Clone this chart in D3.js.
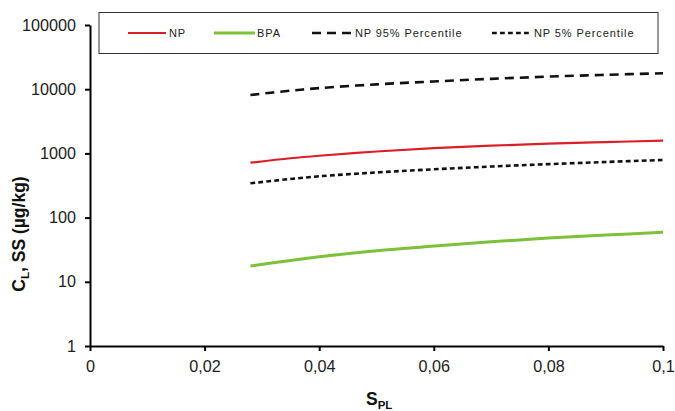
<!DOCTYPE html>
<html>
<head>
<meta charset="utf-8">
<script src="https://cdn.jsdelivr.net/npm/d3@7"></script>
<style>
  html, body { margin: 0; padding: 0; background: #fff; }
  svg { display: block; font-family: "Liberation Sans", Arial, sans-serif; }
</style>
</head>
<body>
<svg id="chart" width="675" height="411"></svg>
<script>
// ---- data ----
const sPL = [0.028, 0.035, 0.04, 0.05, 0.06, 0.07, 0.08, 0.09, 0.1];
const np = [716, 840, 920, 1070, 1210, 1320, 1420, 1500, 1580];
const bpa = [17.6, 21.5, 24.5, 30.5, 36, 42, 48, 53.5, 59];
const np95 = [8130, 9500, 10400, 11900, 13200, 14500, 15700, 16750, 17700];
const np5 = [342, 400, 440, 505, 565, 625, 680, 735, 790];
const xTicks = [0, 0.02, 0.04, 0.06, 0.08, 0.1];
const xTickLabels = ["0", "0,02", "0,04", "0,06", "0,08", "0,1"];
const yTicks = [1, 10, 100, 1000, 10000, 100000];
const yTickLabels = ["1", "10", "100", "1000", "10000", "100000"];
const seriesNames = ["NP", "BPA", "NP 95% Percentile", "NP 5% Percentile"];

const svg = d3.select("#chart");
const mLeft = 90, mRight = 663, mTop = 25, mBottom = 346;

const x = d3.scaleLinear().domain([0, 0.1]).range([mLeft, mRight]);
const y = d3.scaleLog().domain([1, 100000]).range([mBottom, mTop]);

const styles = [
  { color: "#dc1f26", width: 2.2, dash: null },
  { color: "#7dc13a", width: 3, dash: null },
  { color: "#111", width: 2.6, dash: "9,6" },
  { color: "#111", width: 2.6, dash: "4.8,3.2" }
];
const data = [np, bpa, np95, np5];

const line = d3.line().x(d => x(d[0])).y(d => y(d[1])).curve(d3.curveCatmullRom.alpha(0.5));

data.forEach((vals, i) => {
  const pts = sPL.map((s, j) => [s, vals[j]]);
  svg.append("path")
    .attr("d", line(pts))
    .attr("fill", "none")
    .attr("stroke", styles[i].color)
    .attr("stroke-width", styles[i].width)
    .attr("stroke-dasharray", styles[i].dash);
});

// axes
const xAxis = d3.axisBottom(x).tickValues(xTicks)
  .tickFormat((d, i) => xTickLabels[i]).tickSizeOuter(0).tickSizeInner(5).tickPadding(9);
const gx = svg.append("g").attr("transform", `translate(0,${mBottom})`).call(xAxis);
gx.select(".domain").attr("stroke", "#000").attr("stroke-width", 2);
gx.selectAll(".tick line").attr("stroke", "#000").attr("stroke-width", 2);
gx.selectAll("text").attr("font-size", 16.2).attr("fill", "#222")
  .attr("font-family", "Liberation Sans, Arial, sans-serif");

const yAxis = d3.axisLeft(y).tickValues(yTicks)
  .tickFormat((d, i) => yTickLabels[i]).tickSizeOuter(0).tickSizeInner(5).tickPadding(9);
const gy = svg.append("g").attr("transform", `translate(${mLeft},0)`).call(yAxis);
gy.select(".domain").attr("stroke", "#000").attr("stroke-width", 2);
gy.selectAll(".tick line").attr("stroke", "#000").attr("stroke-width", 2);
gy.selectAll("text").attr("font-size", 16.2).attr("fill", "#222")
  .attr("font-family", "Liberation Sans, Arial, sans-serif");

// axis titles
const yt = svg.append("text")
  .attr("transform", "translate(25,234) rotate(-90)")
  .attr("text-anchor", "middle")
  .attr("font-weight", "bold").attr("font-size", 17.5).attr("fill", "#111");
yt.append("tspan").text("C");
yt.append("tspan").attr("font-size", 11.5).attr("dy", 4).text("L");
yt.append("tspan").attr("dy", -4).text(", SS (µg/kg)");

const xt = svg.append("text")
  .attr("x", 366).attr("y", 405)
  .attr("font-weight", "bold").attr("font-size", 17.5).attr("fill", "#111");
xt.append("tspan").text("S");
xt.append("tspan").attr("font-size", 11.5).attr("dy", 4).text("PL");

// legend
svg.append("rect").attr("x", 99).attr("y", 12.5).attr("width", 559).attr("height", 41)
  .attr("fill", "#fff").attr("stroke", "#333").attr("stroke-width", 1);
const legendPos = [
  { x1: 128, x2: 166, tx: 169 },
  { x1: 214, x2: 255, tx: 257 },
  { x1: 312, x2: 354, tx: 355 },
  { x1: 492, x2: 532, tx: 534 }
];
seriesNames.forEach((name, i) => {
  const p = legendPos[i];
  svg.append("line").attr("x1", p.x1).attr("x2", p.x2).attr("y1", 33).attr("y2", 33)
    .attr("stroke", styles[i].color).attr("stroke-width", styles[i].width)
    .attr("stroke-dasharray", styles[i].dash);
  svg.append("text").attr("x", p.tx).attr("y", 37.2).text(name)
    .attr("font-size", 11).attr("letter-spacing", 0.9).attr("fill", "#222");
});
</script>
</body>
</html>
